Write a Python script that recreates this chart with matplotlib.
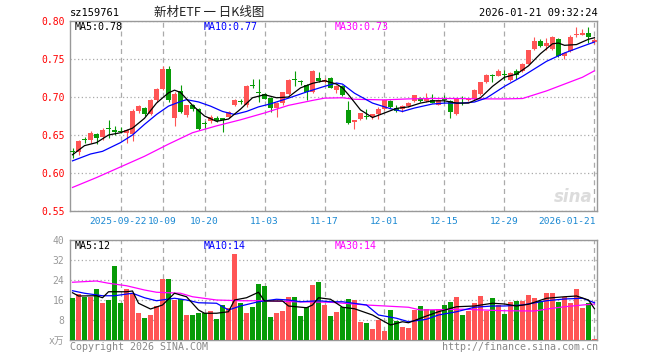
import matplotlib
matplotlib.use("Agg")
import matplotlib.pyplot as plt
import matplotlib.transforms as mtransforms

plt.rcParams['font.family'] = ['DejaVu Sans Mono', 'Noto Sans CJK SC']

# date ticks (candle index -> label)
tick_idx = [8, 15, 22, 32, 42, 52, 62, 72, 87]
tick_labels = ["2025-09-22", "10-09", "10-20", "11-03", "11-17",
               "12-01", "12-15", "12-29", "2026-01-21"]

opens = [0.6285, 0.6270, 0.6435, 0.6430, 0.6510, 0.6470, 0.6590, 0.6570, 0.6555, 0.6530,
         0.6510, 0.6815, 0.6850, 0.6770, 0.6958, 0.7107, 0.7369, 0.6728, 0.7076, 0.6758,
         0.6890, 0.6836, 0.6645, 0.6683, 0.6728, 0.6719, 0.6741, 0.6900, 0.6935, 0.6889,
         0.7145, 0.7060, 0.7033, 0.6990, 0.6859, 0.6915, 0.7046, 0.7238, 0.7200, 0.7164,
         0.7063, 0.7251, 0.7194, 0.7251, 0.7098, 0.7150, 0.6823, 0.6670, 0.6715, 0.6745,
         0.6741, 0.6771, 0.6845, 0.6945, 0.6859, 0.6836, 0.6880, 0.6945, 0.6990, 0.6945,
         0.6967, 0.6900, 0.6962, 0.6945, 0.6771, 0.6980, 0.6955, 0.6976, 0.7046, 0.7194,
         0.7285, 0.7281, 0.7298, 0.7220, 0.7338, 0.7338, 0.7438, 0.7631, 0.7743, 0.7674,
         0.7631, 0.7766, 0.7543, 0.7600, 0.7812, 0.7818, 0.7848, 0.7726]
highs = [0.6325, 0.6440, 0.6470, 0.6550, 0.6530, 0.6590, 0.6696, 0.6620, 0.6600, 0.6580,
         0.6840, 0.6900, 0.6870, 0.6970, 0.7120, 0.7403, 0.7412, 0.7060, 0.7164, 0.6900,
         0.6905, 0.6850, 0.6680, 0.6760, 0.6750, 0.6730, 0.6815, 0.6970, 0.6980, 0.7160,
         0.7238, 0.7238, 0.7050, 0.7000, 0.6930, 0.7070, 0.7240, 0.7347, 0.7229, 0.7165,
         0.7350, 0.7330, 0.7250, 0.7260, 0.7160, 0.7160, 0.6945, 0.6700, 0.6790, 0.6836,
         0.6780, 0.6872, 0.6980, 0.6960, 0.6900, 0.6890, 0.6935, 0.7030, 0.7000, 0.7055,
         0.7040, 0.6970, 0.7020, 0.6955, 0.6990, 0.7010, 0.6990, 0.7110, 0.7200, 0.7300,
         0.7300, 0.7373, 0.7360, 0.7330, 0.7369, 0.7450, 0.7620, 0.7788, 0.7760, 0.7775,
         0.7800, 0.7780, 0.7590, 0.7810, 0.7927, 0.7893, 0.7919, 0.7770]
lows = [0.6195, 0.6240, 0.6390, 0.6400, 0.6380, 0.6430, 0.6466, 0.6500, 0.6520, 0.6400,
        0.6420, 0.6790, 0.6750, 0.6760, 0.6940, 0.7090, 0.6940, 0.6618, 0.6790, 0.6740,
        0.6820, 0.6570, 0.6590, 0.6660, 0.6670, 0.6540, 0.6725, 0.6880, 0.6905, 0.6870,
        0.7120, 0.6935, 0.6970, 0.6800, 0.6741, 0.6900, 0.7030, 0.7150, 0.7164, 0.6958,
        0.7050, 0.7195, 0.7180, 0.7115, 0.7055, 0.7010, 0.6640, 0.6575, 0.6700, 0.6715,
        0.6710, 0.6715, 0.6830, 0.6860, 0.6800, 0.6805, 0.6870, 0.6935, 0.6940, 0.6935,
        0.6915, 0.6890, 0.6924, 0.6728, 0.6760, 0.6900, 0.6950, 0.6960, 0.7030, 0.7180,
        0.7194, 0.7270, 0.7229, 0.7215, 0.7238, 0.7330, 0.7430, 0.7620, 0.7660, 0.7622,
        0.7620, 0.7530, 0.7500, 0.7590, 0.7796, 0.7815, 0.7710, 0.7700]
closes = [0.6270, 0.6420, 0.6430, 0.6530, 0.6455, 0.6570, 0.6580, 0.6545, 0.6545, 0.6560,
          0.6810, 0.6880, 0.6770, 0.6958, 0.7107, 0.7369, 0.6967, 0.7046, 0.6806, 0.6889,
          0.6840, 0.6584, 0.6640, 0.6741, 0.6683, 0.6696, 0.6800, 0.6958, 0.6930, 0.7150,
          0.7141, 0.7055, 0.6980, 0.6859, 0.6915, 0.7063, 0.7229, 0.7229, 0.7194, 0.7063,
          0.7338, 0.7207, 0.7229, 0.7120, 0.7150, 0.7020, 0.6653, 0.6696, 0.6784, 0.6741,
          0.6771, 0.6845, 0.6967, 0.6872, 0.6814, 0.6880, 0.6924, 0.7020, 0.6945, 0.6990,
          0.6924, 0.6958, 0.6958, 0.6800, 0.6976, 0.6976, 0.6976, 0.7098, 0.7194, 0.7294,
          0.7281, 0.7338, 0.7294, 0.7317, 0.7294, 0.7435, 0.7613, 0.7743, 0.7674, 0.7717,
          0.7788, 0.7543, 0.7579, 0.7796, 0.7818, 0.7840, 0.7796, 0.7753]

volumes = [16.9, 18.4, 17.2, 17.2, 20.4, 14.8, 16.1, 29.7, 14.8, 20.4,
           18.4, 10.9, 8.8, 10.0, 13.6, 24.4, 24.4, 16.0, 16.4, 10.0,
           10.0, 10.9, 10.9, 11.6, 8.4, 14.0, 12.8, 34.4, 14.8, 10.9,
           13.2, 22.4, 21.6, 9.2, 10.9, 11.6, 17.2, 17.2, 9.6, 13.2,
           22.0, 23.2, 14.0, 9.6, 11.3, 13.3, 16.4, 16.0, 7.3, 6.8,
           4.4, 8.0, 3.6, 12.0, 7.7, 5.2, 4.8, 12.0, 13.6, 12.3,
           12.0, 12.3, 14.0, 15.3, 17.2, 10.0, 11.6, 14.8, 17.6, 11.6,
           16.8, 14.0, 10.4, 15.3, 15.6, 15.6, 18.0, 16.8, 15.6, 18.8,
           18.8, 15.3, 17.2, 15.0, 20.4, 12.8, 14.8, 0.4]

# moving averages (index, value)
ma5_idx = [0, 2, 4, 6, 8, 10, 12, 14, 16, 17, 18, 20, 22, 24, 26, 28, 30, 32, 34, 36,
           38, 40, 42, 44, 45, 46, 48, 50, 52, 54, 56, 58, 60, 62, 64, 66, 68, 70, 72,
           74, 76, 78, 80, 81, 82, 84, 86, 87]
ma5_val = [0.624, 0.636, 0.640, 0.650, 0.653, 0.659, 0.672, 0.692, 0.7055, 0.709, 0.706,
           0.689, 0.675, 0.668, 0.671, 0.684, 0.699, 0.703, 0.699, 0.700, 0.712, 0.718,
           0.7215, 0.717, 0.712, 0.703, 0.683, 0.673, 0.679, 0.685, 0.687, 0.692, 0.695,
           0.695, 0.692, 0.692, 0.699, 0.714, 0.726, 0.730, 0.741, 0.757, 0.770, 0.771,
           0.768, 0.769, 0.776, 0.778]
ma10_idx = [0, 3, 5, 8, 10, 12, 14, 16, 18, 19, 21, 23, 25, 27, 29, 31, 33, 36, 39, 42,
            44, 45, 47, 50, 53, 55, 57, 60, 62, 65, 67, 69, 72, 75, 79, 82, 85, 87]
ma10_val = [0.616, 0.625, 0.6285, 0.640, 0.650, 0.664, 0.677, 0.688, 0.694, 0.6965,
            0.6935, 0.688, 0.681, 0.677, 0.681, 0.687, 0.691, 0.6985, 0.7066, 0.714,
            0.7184, 0.717, 0.705, 0.692, 0.6846, 0.681, 0.6855, 0.6908, 0.692, 0.692,
            0.6934, 0.6987, 0.714, 0.7272, 0.7469, 0.7579, 0.7667, 0.7724]
ma30_idx = [0, 4, 8, 12, 16, 20, 24, 28, 32, 36, 40, 42, 45, 47, 52, 56, 60, 64, 68,
            72, 75, 77, 79, 81, 83, 85, 87]
ma30_val = [0.581, 0.594, 0.608, 0.622, 0.638, 0.653, 0.662, 0.670, 0.679, 0.689,
            0.6955, 0.6985, 0.699, 0.697, 0.6962, 0.6975, 0.698, 0.698, 0.6975, 0.6975,
            0.698, 0.703, 0.708, 0.714, 0.720, 0.726, 0.7345]

vma5_idx = [0, 1, 4, 5, 6, 9, 10, 11, 13, 15, 17, 19, 21, 22, 24, 26, 27, 29, 31, 32,
            35, 36, 39, 40, 41, 43, 45, 47, 50, 53, 55, 56, 59, 61, 64, 67, 70, 72, 74,
            76, 79, 82, 84, 86, 87]
vma5_val = [18.9, 17.6, 17.7, 16.9, 19.3, 19.3, 19.6, 14.7, 12.4, 14.0, 18.7, 17.3, 12.0,
            10.7, 10.7, 11.3, 16.0, 16.9, 19.1, 15.6, 15.6, 13.6, 12.9, 14.0, 16.9, 16.3,
            13.1, 12.5, 10.0, 6.0, 7.3, 6.9, 9.6, 11.3, 13.3, 13.6, 14.7, 14.4, 13.6, 14.3,
            16.7, 17.3, 17.6, 16.0, 12.5]
vma10_idx = [0, 2, 5, 7, 10, 12, 14, 17, 19, 21, 24, 26, 28, 31, 34, 36, 38, 41, 43, 45,
             49, 51, 54, 56, 59, 61, 64, 67, 70, 72, 75, 79, 82, 85, 87]
vma10_val = [19.7, 18.7, 17.7, 17.7, 18.7, 16.9, 15.7, 16.7, 16.0, 14.9, 14.7, 12.0, 13.6,
             15.3, 16.3, 16.0, 15.3, 15.7, 15.3, 15.3, 14.0, 10.0, 8.7, 7.3, 8.3, 10.0,
             11.3, 13.1, 13.6, 13.6, 14.0, 15.7, 16.4, 16.7, 14.9]
vma30_idx = [0, 4, 6, 9, 12, 14, 18, 20, 24, 28, 32, 37, 43, 49, 56, 58, 65, 72, 77, 80,
             82, 85, 87]
vma30_val = [23.1, 23.6, 22.7, 21.7, 20.0, 19.1, 18.7, 17.3, 16.0, 15.7, 15.7, 15.3, 15.1,
             14.0, 13.1, 12.0, 12.3, 11.7, 11.6, 12.7, 13.3, 14.0, 14.4]

RED = '#ff5555'
GREEN = '#079b07'
GRID = '#aaaaaa'
W, H = 660, 360


def px(x, y):
    return x / W, 1 - y / H


fig = plt.figure(figsize=(6.6, 3.6), dpi=100)
ax = fig.add_axes([70 / W, 1 - 211 / H, 527 / W, 190 / H])
axv = fig.add_axes([70 / W, 1 - 340 / H, 527 / W, 100 / H])

n = len(closes)
xs = list(range(n))
colors = [RED if c >= o else GREEN for o, c in zip(opens, closes)]

for a in (ax, axv):
    a.set_xlim(-0.42, n - 0.58)
    a.set_axisbelow(True)
    for s in a.spines.values():
        s.set_color('#999999')
        s.set_linewidth(1.0)
    a.set_xticks(tick_idx)
    a.set_xticklabels([])
    a.tick_params(length=0, pad=4, labelsize=7)
    a.xaxis.grid(True, color=GRID, linestyle=(0, (4, 3)), linewidth=0.9)
    a.yaxis.grid(True, color=GRID, linestyle=(0, (1, 2)), linewidth=0.9)

# price panel
ax.set_ylim(0.55, 0.80)
pticks = [0.55, 0.60, 0.65, 0.70, 0.75, 0.80]
ax.set_yticks(pticks)
ax.set_yticklabels([f"{v:.2f}" for v in pticks], color='#ff0000')

ax.vlines(xs, lows, highs, colors=colors, linewidth=0.8, zorder=2)
bottoms = [min(o, c) for o, c in zip(opens, closes)]
heights = [max(abs(c - o), 0.0012) for o, c in zip(opens, closes)]
ax.bar(xs, heights, bottom=bottoms, width=0.8, color=colors, linewidth=0, zorder=3)

ax.plot(ma30_idx, ma30_val, color='#ff00ff', linewidth=0.9, zorder=4)
ax.plot(ma10_idx, ma10_val, color='#0000ff', linewidth=0.9, zorder=4)
ax.plot(ma5_idx, ma5_val, color='black', linewidth=0.9, zorder=4)

# date labels under the price panel
trans = mtransforms.blended_transform_factory(ax.transData, ax.transAxes)
for k, (i, lab) in enumerate(zip(tick_idx, tick_labels)):
    if i == n - 1:
        ha, xpos = 'right', i + 0.2
    elif k == 0:
        ha, xpos = 'center', i - 0.35
    else:
        ha, xpos = 'center', i
    ax.text(xpos, -0.053, lab, transform=trans, ha=ha,
            va='center', fontsize=6.8, color='#1a88d2')

fig.text(*px(75, 27), 'MA5:0.78', fontsize=7.2, color='black', va='center')
fig.text(*px(204, 27), 'MA10:0.77', fontsize=7.2, color='#0000ff', va='center')
fig.text(*px(335, 27), 'MA30:0.73', fontsize=7.2, color='#ff00ff', va='center')

# sina watermark
fig.text(*px(593, 197), 'sina', fontsize=12, fontweight='bold', style='italic',
         color='#dcdcdc', ha='right', va='center', family='DejaVu Sans')

# volume panel
axv.set_ylim(0, 40)
vticks = [0, 8, 16, 24, 32, 40]
axv.set_yticks(vticks)
axv.set_yticklabels(['x万'] + [str(v) for v in vticks[1:]], color='#999999')
axv.bar(xs, volumes, width=0.8, color=colors, linewidth=0, zorder=3)
axv.plot(vma30_idx, vma30_val, color='#ff00ff', linewidth=0.9, zorder=4)
axv.plot(vma10_idx, vma10_val, color='#0000ff', linewidth=0.9, zorder=4)
axv.plot(vma5_idx, vma5_val, color='black', linewidth=0.9, zorder=4)

fig.text(*px(75, 246), 'MA5:12', fontsize=7.2, color='black', va='center')
fig.text(*px(204, 246), 'MA10:14', fontsize=7.2, color='#0000ff', va='center')
fig.text(*px(335, 246), 'MA30:14', fontsize=7.2, color='#ff00ff', va='center')

# header / footer
fig.text(*px(70, 13), 'sz159761', fontsize=7.5, color='black', va='center')
fig.text(*px(209, 12), '新材ETF 一 日K线图', fontsize=9, color='#222222',
         ha='center', va='center', family=['Noto Sans CJK SC', 'DejaVu Sans'])
fig.text(*px(598, 13), '2026-01-21 09:32:24', fontsize=7.5, color='black',
         ha='right', va='center')
fig.text(*px(70, 347), 'Copyright 2026 SINA.COM', fontsize=7.2, color='#888888',
         va='center')
fig.text(*px(598, 347), 'http://finance.sina.com.cn', fontsize=7.2, color='#888888',
         ha='right', va='center')

fig.savefig('out.png', dpi=100)
